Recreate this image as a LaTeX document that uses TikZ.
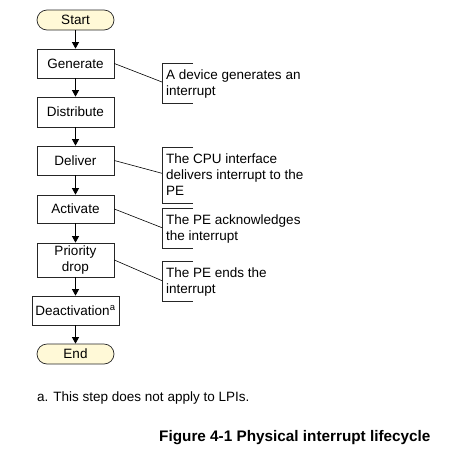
\documentclass[tikz,border=0pt]{standalone}
\usepackage{fontspec}
\setmainfont{Liberation Sans}
\usetikzlibrary{arrows.meta}
\definecolor{termfill}{RGB}{255,249,215}
\begin{document}
\begin{tikzpicture}[x=1pt,y=-1pt,
  box/.style={draw=black!85, line width=0.7pt, minimum width=77pt, align=center, inner sep=1pt, font=\fontsize{13.5}{16}\selectfont},
  term/.style={box, fill=termfill, rounded corners=10pt, minimum height=20pt},
  flow/.style={-{Triangle[length=6.5pt,width=7pt]}, line width=0.8pt},
  lead/.style={line width=0.6pt},
  bracket/.style={line width=0.7pt, draw=black!85},
  note/.style={anchor=base west, inner sep=0pt, font=\fontsize{13.5}{16}\selectfont}]
\useasboundingbox (0,0) rectangle (455,453);

% flow nodes
\node[term] (start) at (75.5,20) {Start};
\node[box, minimum height=29pt] (gen) at (75.5,63.5) {Generate};
\node[box, minimum height=30pt] (dist) at (75.5,112) {Distribute};
\node[box, minimum height=29pt] (del) at (75.5,160.5) {Deliver};
\node[box, minimum height=28pt] (act) at (75.5,209) {Activate};
\node[box, minimum height=34pt] (prio) at (75.5,260) {Priority\\drop};
\node[box, minimum width=87pt, minimum height=29pt] (deact) at (75.5,310.5) {Deactivation\textsuperscript{a}};
\node[term] (end) at (75.5,354) {End};

\draw[flow] (start) -- (gen);
\draw[flow] (gen) -- (dist);
\draw[flow] (dist) -- (del);
\draw[flow] (del) -- (act);
\draw[flow] (act) -- (prio);
\draw[flow] (prio) -- (deact);
\draw[flow] (deact) -- (end);

% annotations
\draw[bracket] (193,63) -- (162,63) -- (162,103) -- (193,103);
\node[note] (n1) at (166,79.3) {\parbox[t]{200pt}{A device generates an\\interrupt}};
\coordinate (c1) at (162,82);
\draw[lead] (gen.east) -- (c1);

\draw[bracket] (193,147) -- (162,147) -- (162,203) -- (193,203);
\node[note] (n2) at (166,163.3) {\parbox[t]{200pt}{The CPU interface\\delivers interrupt to the\\PE}};
\coordinate (c2) at (162,173.3);
\draw[lead] (del.east) -- (c2);

\draw[bracket] (193,208) -- (162,208) -- (162,248) -- (193,248);
\node[note] (n3) at (166,224.3) {\parbox[t]{200pt}{The PE acknowledges\\the interrupt}};
\coordinate (c3) at (162,227.7);
\draw[lead] (act.east) -- (c3);

\draw[bracket] (193,261) -- (162,261) -- (162,301) -- (193,301);
\node[note] (n4) at (166,277.3) {\parbox[t]{200pt}{The PE ends the\\interrupt}};
\coordinate (c4) at (162,280.7);
\draw[lead] (prio.east) -- (c4);

% footnote and caption
\node[note] (fn) at (37,401.5) {a. This step does not apply to LPIs.};
\node[note, font=\bfseries\fontsize{15.3}{18}\selectfont] (cap) at (159,441) {Figure 4-1 Physical interrupt lifecycle};
\end{tikzpicture}
\end{document}
